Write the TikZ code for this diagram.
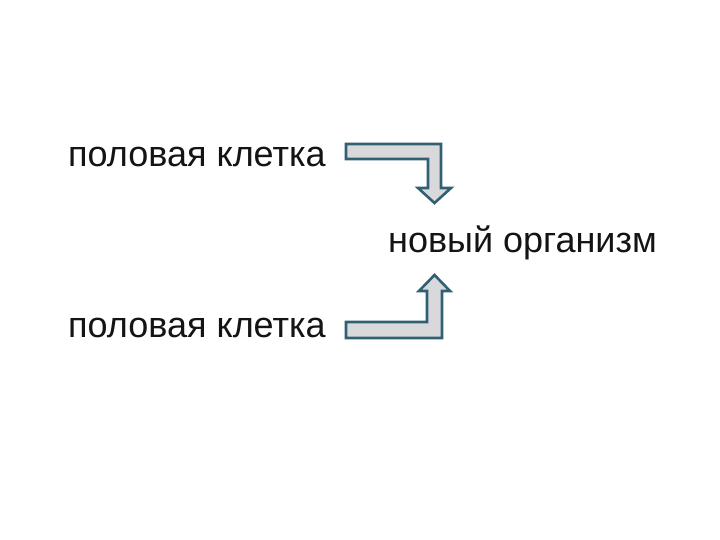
\documentclass[tikz,border=0pt]{standalone}
\usepackage{fontspec}
\setmainfont{Liberation Sans}
\usepackage{tikz}
\usetikzlibrary{
  calc,
  positioning
}
\usepackage{xcolor}
\definecolor{arrowFill}{rgb}{0.85,0.85,0.86}
\definecolor{arrowEdge}{rgb}{0.19,0.38,0.45}
\definecolor{textBlack}{rgb}{0.08,0.08,0.08}
\tikzset{
  label text/.style={
    anchor=base west,
    inner sep=0pt,
    text=textBlack,
    font=\fontsize{36}{40}\selectfont
  },
  block arrow/.style={
    fill=arrowFill,
    draw=arrowEdge,
    line width=2.6pt,
    line join=miter
  }
}

\begin{document}
\begin{tikzpicture}[x=1pt, y=1pt]
    \useasboundingbox[fill=white] (0,0) rectangle (720,540);

    \node[label text] (cell1) at (68,373) {половая клетка};
    \node[label text] (cell2) at (68,202) {половая клетка};
    \node[label text] (child) at (388,287) {новый организм};

    % upper gamete goes down to the new organism
    \coordinate (from1) at ($(cell1.base west)+(278,23)$);
    \draw[block arrow]
    (from1) -- ++(95,0) -- ++(0,-44)
    -- ++(10,0) -- ++(-16.5,-15) -- ++(-16.5,15)
    -- ++(10,0) -- ++(0,29) -- ++(-82,0)
    -- cycle;

    % lower gamete goes up to the new organism
    \coordinate (from2) at ($(cell2.base west)+(278,0)$);
    \draw[block arrow]
    (from2) -- ++(96,0) -- ++(0,47)
    -- ++(8,0) -- ++(-15.5,16) -- ++(-15.5,-16)
    -- ++(8,0) -- ++(0,-31) -- ++(-81,0)
    -- cycle;
\end{tikzpicture}
\end{document}
